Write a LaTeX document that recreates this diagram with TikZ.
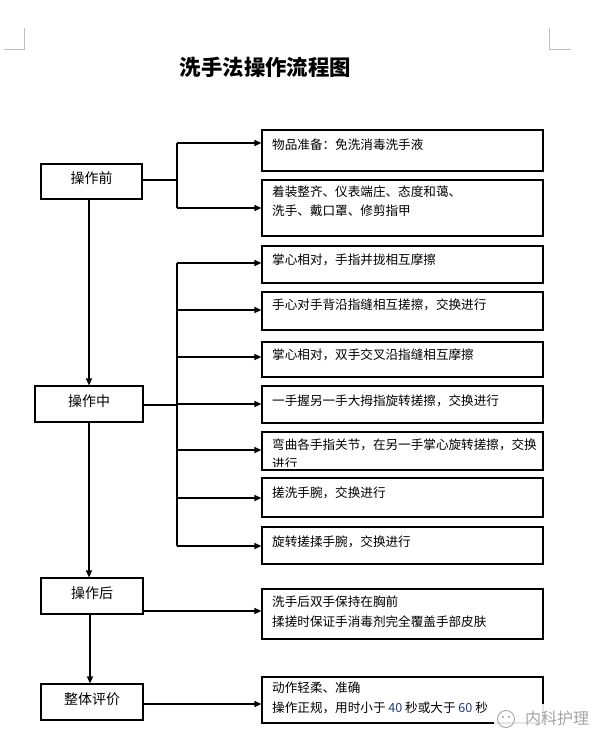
\documentclass[tikz,border=0pt]{standalone}
\usepackage{fontspec}
\setmainfont{Noto Sans CJK SC}
\usetikzlibrary{arrows.meta}
\definecolor{markgray}{RGB}{192,192,192}
\definecolor{digitblue}{RGB}{35,60,125}
\definecolor{wmgray}{RGB}{165,165,165}
\begin{document}
\begin{tikzpicture}[x=1pt,y=-1pt,
  lbox/.style={draw, line width=1.2pt, inner sep=0pt, font=\fontsize{14}{16}\selectfont, text height=12.3pt, text depth=7.7pt},
  rbox/.style={draw, line width=1.2pt, inner sep=0pt, minimum width=281pt},
  rtext/.style={anchor=west, inner sep=0pt, font=\fontsize{12.6}{19}\selectfont, text height=11.1pt, text depth=1.5pt},
  conn/.style={line width=1.2pt},
  arr/.style={conn, -{Triangle[length=7pt,width=6pt]}},
  cornermark/.style={draw=markgray, line width=1pt}]
\useasboundingbox (0,0) rectangle (606,745);
\fill[white] (0,0) rectangle (606,745);

% corner marks
\draw[cornermark] (24,28) -- (24,49) -- (4,49);
\draw[cornermark] (549,28) -- (549,49) -- (571,49);

% title
\node[inner sep=0pt, font=\fontsize{21.4}{24}\selectfont\bfseries] (title) at (265.5,67) {洗手法操作流程图};

% left boxes
\node[lbox, minimum width=101pt, minimum height=35pt] (L1) at (91.5,181.5) {操作前};
\node[lbox, minimum width=108pt, minimum height=36pt] (L2) at (89,404) {操作中};
\node[lbox, minimum width=102pt, minimum height=36pt] (L3) at (92,596) {操作后};
\node[lbox, minimum width=102pt, minimum height=36pt] (L4) at (92,702) {整体评价};

% right boxes
\node[rbox, minimum height=41pt] (R1) at (402.5,150.5) {};
\node[rbox, minimum height=56pt] (R2) at (402.5,208) {};
\node[rbox, minimum height=37pt] (R3) at (402.5,264.5) {};
\node[rbox, minimum height=38pt] (R4) at (402.5,311) {};
\node[rbox, minimum height=35pt] (R5) at (402.5,359.5) {};
\node[rbox, minimum height=37pt] (R6) at (402.5,404.5) {};
\node[rbox, minimum height=38pt] (R7) at (402.5,451) {};
\node[rbox, minimum height=39pt] (R8) at (402.5,497.5) {};
\node[rbox, minimum height=37pt] (R9) at (402.5,545.5) {};
\node[rbox, minimum height=50pt] (R10) at (402.5,614) {};
\node[rbox, minimum height=46pt] (R11) at (402.5,700) {};

% texts in right boxes
\node[rtext] (t1) at (272,145) {物品准备：免洗消毒洗手液};
\node[rtext] (t2a) at (272,192) {着装整齐、仪表端庄、态度和蔼、};
\node[rtext] (t2b) at (272,211) {洗手、戴口罩、修剪指甲};
\node[rtext] (t3) at (272,260) {掌心相对，手指并拢相互摩擦};
\node[rtext] (t4) at (272,305) {手心对手背沿指缝相互搓擦，交换进行};
\node[rtext] (t5) at (272,355) {掌心相对，双手交叉沿指缝相互摩擦};
\node[rtext] (t6) at (272,401) {一手握另一手大拇指旋转搓擦，交换进行};
\node[rtext] (t7a) at (272,445) {弯曲各手指关节，在另一手掌心旋转搓擦，交换};
\begin{scope}
  \clip (262,432) rectangle (543,466.5);
  \node[rtext] (t7b) at (272,464) {进行};
\end{scope}
\node[rtext] (t8) at (272,493) {搓洗手腕，交换进行};
\node[rtext] (t9) at (272,542) {旋转搓揉手腕，交换进行};
\node[rtext] (t10a) at (272,602) {洗手后双手保持在胸前};
\node[rtext] (t10b) at (272,622) {揉搓时保证手消毒剂完全覆盖手部皮肤};
\node[rtext] (t11a) at (272,688) {动作轻柔、准确};
\node[rtext] (t11b) at (272,708) {操作正规，用时小于 {\color{digitblue}40} 秒或大于 {\color{digitblue}60} 秒};

% main vertical flow
\draw[arr] (L1.south -| 89,0) -- (L2.north -| 89,0);
\draw[arr] (L2.south -| 89,0) -- (L3.north -| 89,0);
\draw[arr] (L3.south -| 90,0) -- (L4.north -| 90,0);

% group before
\coordinate (j1) at (177,180);
\coordinate (a1) at (177,143);
\coordinate (a2) at (177,208);
\draw[conn] (L1.east |- j1) -- (j1);
\draw[conn] (a1) -- (a2);
\draw[arr] (a1) -- (a1 -| R1.west);
\draw[arr] (a2) -- (a2 -| R2.west);

% group during
\coordinate (j2) at (177,405);
\coordinate (a3) at (177,263);
\coordinate (a4) at (177,310);
\coordinate (a5) at (177,357);
\coordinate (a6) at (177,404);
\coordinate (a7) at (177,450);
\coordinate (a8) at (177,498);
\coordinate (a9) at (177,546);
\draw[conn] (L2.east |- j2) -- (j2);
\draw[conn] (a3) -- (a9);
\foreach \a/\r in {a3/R3,a4/R4,a5/R5,a6/R6,a7/R7,a8/R8,a9/R9}
  \draw[arr] (\a) -- (\a -| \r.west);

% after and evaluation
\coordinate (a10) at (143,611);
\coordinate (a11) at (143,704);
\draw[arr] (a10) -- (a10 -| R10.west);
\draw[arr] (a11) -- (a11 -| R11.west);

% watermark
\fill[white, opacity=0.9] (494,704) rectangle (595,736);
\draw[wmgray, line width=0.9pt] (506,719) circle (8.5pt);
\fill[wmgray] (503,717) circle (1.1pt) (509,717) circle (1.1pt);
\node[inner sep=0pt, text=wmgray, font=\fontsize{16}{18}\selectfont] (wm) at (557,718) {内科护理};
\end{tikzpicture}
\end{document}
